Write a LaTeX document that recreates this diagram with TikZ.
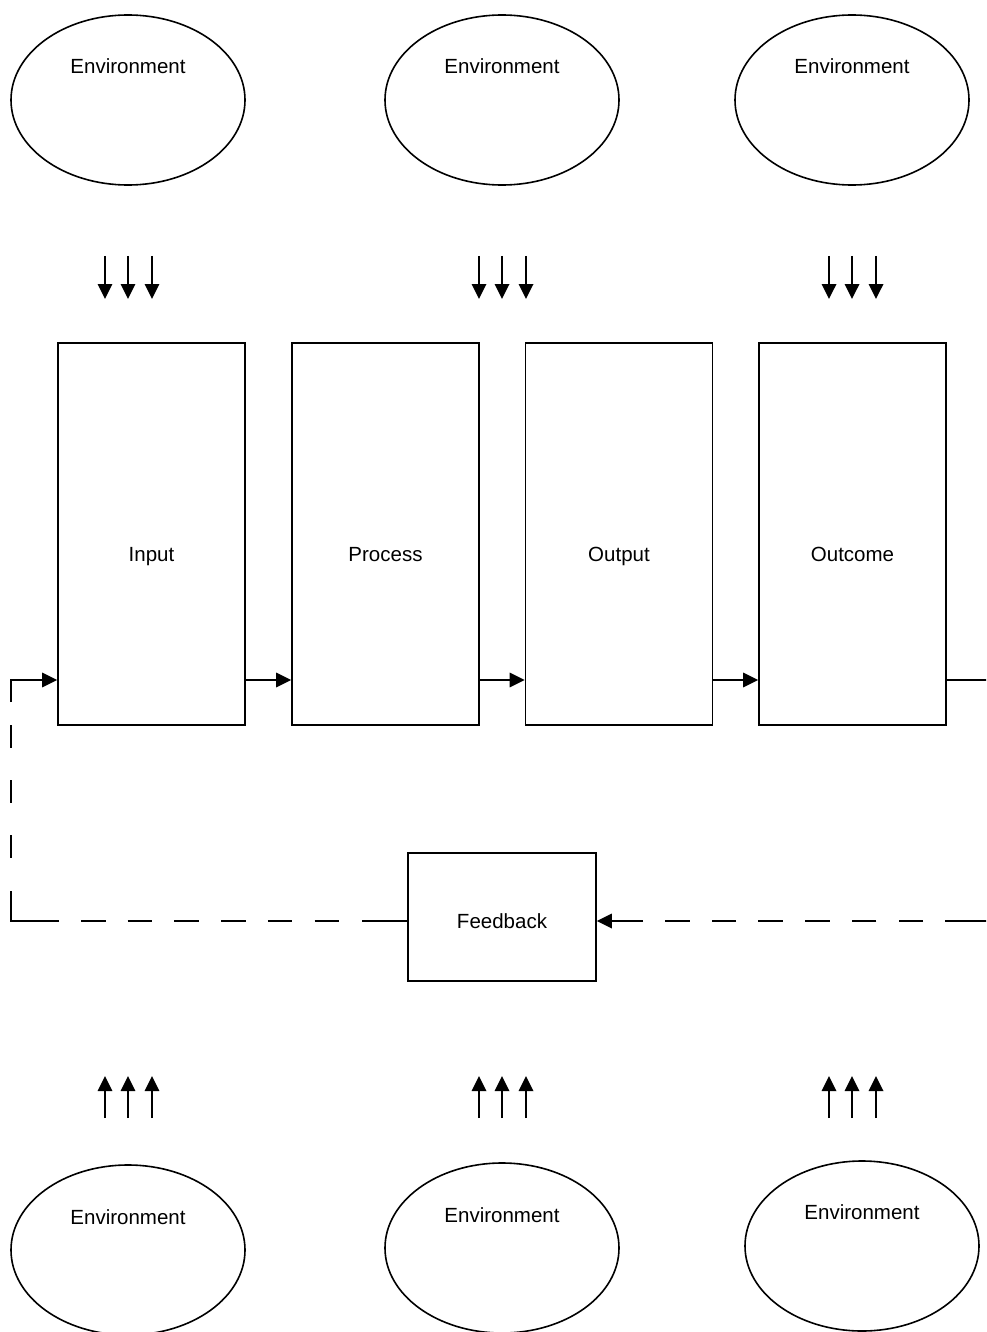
\documentclass[tikz,border=0pt]{standalone}
\usepackage{fontspec}
\setmainfont{Liberation Sans}
\usetikzlibrary{arrows.meta,shapes.geometric}
\begin{document}
\begin{tikzpicture}[x=1pt,y=-1pt,
  envell/.style={draw,line width=1.6pt,ellipse,minimum width=234pt,minimum height=170pt,inner sep=0pt},
  blk/.style={draw,line width=1.8pt,rectangle,minimum width=187pt,minimum height=382pt,inner sep=0pt},
  fbbox/.style={draw,line width=1.8pt,rectangle,minimum width=188pt,minimum height=128pt,inner sep=0pt},
  txt/.style={font=\fontsize{20.5}{24}\selectfont,inner sep=0pt,text height=15pt,text depth=4pt},
  tip/.style={-{Triangle[length=15pt,width=14.5pt]}},
  conn/.style={line width=1.8pt,tip},
  plain/.style={line width=1.8pt},
  dshh/.style={line width=1.8pt,dash pattern=on 24.5pt off 22.2pt},
  dshv/.style={line width=1.8pt,dash pattern=on 22.5pt off 32.5pt}
]
\useasboundingbox (0,0) rectangle (986,1332);
\clip (0,0) rectangle (986,1332);

% top environments
\node[envell] (et1) at (128,100) {};
\node[envell] (et2) at (502,100) {};
\node[envell] (et3) at (852,100) {};
\node[txt] (tt1) at (128,68) {Environment};
\node[txt] (tt2) at (502,68) {Environment};
\node[txt] (tt3) at (852,68) {Environment};

% bottom environments
\node[envell] (eb1) at (128,1250) {};
\node[envell] (eb2) at (502,1248) {};
\node[envell] (eb3) at (862,1246) {};
\node[txt] (tb1) at (128,1219) {Environment};
\node[txt] (tb2) at (502,1217) {Environment};
\node[txt] (tb3) at (862,1214) {Environment};

% blocks
\node[blk] (in) at (151.5,534) {};
\node[blk] (pr) at (385.5,534) {};
\node[blk] (out) at (619,534) {};
\node[blk] (oc) at (852.5,534) {};
\node[txt] (lin) at (151.5,556) {Input};
\node[txt] (lpr) at (385.5,556) {Process};
\node[txt] (lout) at (619,556) {Output};
\node[txt] (loc) at (852.5,556) {Outcome};

% feedback
\node[fbbox] (fb) at (502,917) {};
\node[txt] (lfb) at (502,923) {Feedback};

% connectors between blocks
\draw[conn] (in.east |- 0,680) -- (pr.west |- 0,680);
\draw[conn] (pr.east |- 0,680) -- (out.west |- 0,680);
\draw[conn] (out.east |- 0,680) -- (oc.west |- 0,680);
\coordinate (rtop) at (990,680);
\draw[plain] (oc.east |- rtop) -- (rtop);

% feedback loop, right part (outcome -> feedback)
\coordinate (rbot) at (990,921);
\coordinate (r1) at (945,921);
\coordinate (r2) at (923,921);
\coordinate (r3) at (665,921);
\coordinate (r4) at (643,921);
\draw[plain] (rbot) -- (r1);
\draw[dshh] (r2) -- (r3);
\draw[conn] (r4) -- (fb.east |- r4);

% feedback loop, left part (feedback -> input)
\coordinate (l1) at (362,921);
\coordinate (l2) at (339.5,921);
\coordinate (l3) at (81,921);
\coordinate (l4) at (59,921);
\coordinate (lbot) at (11,921);
\coordinate (v1) at (11,891);
\coordinate (v2) at (11,858);
\coordinate (v3) at (11,725);
\coordinate (v4) at (11,702);
\coordinate (ltop) at (11,680);
\draw[plain] (fb.west |- l1) -- (l1);
\draw[dshh] (l3) -- (l2);
\draw[plain] (l4) -- (lbot) -- (v1);
\draw[dshv] (v3) -- (v2);
\draw[conn] (v4) -- (ltop) -- (in.west |- ltop);

% environment arrows
\foreach \x [count=\i] in {105,128,152,479,502,526,829,852,876}{
  \coordinate (ds\i) at (\x,256);
  \coordinate (de\i) at (\x,299);
  \draw[conn] (ds\i) -- (de\i);
  \coordinate (us\i) at (\x,1118);
  \coordinate (ue\i) at (\x,1076);
  \draw[conn] (us\i) -- (ue\i);
}
\end{tikzpicture}
\end{document}
